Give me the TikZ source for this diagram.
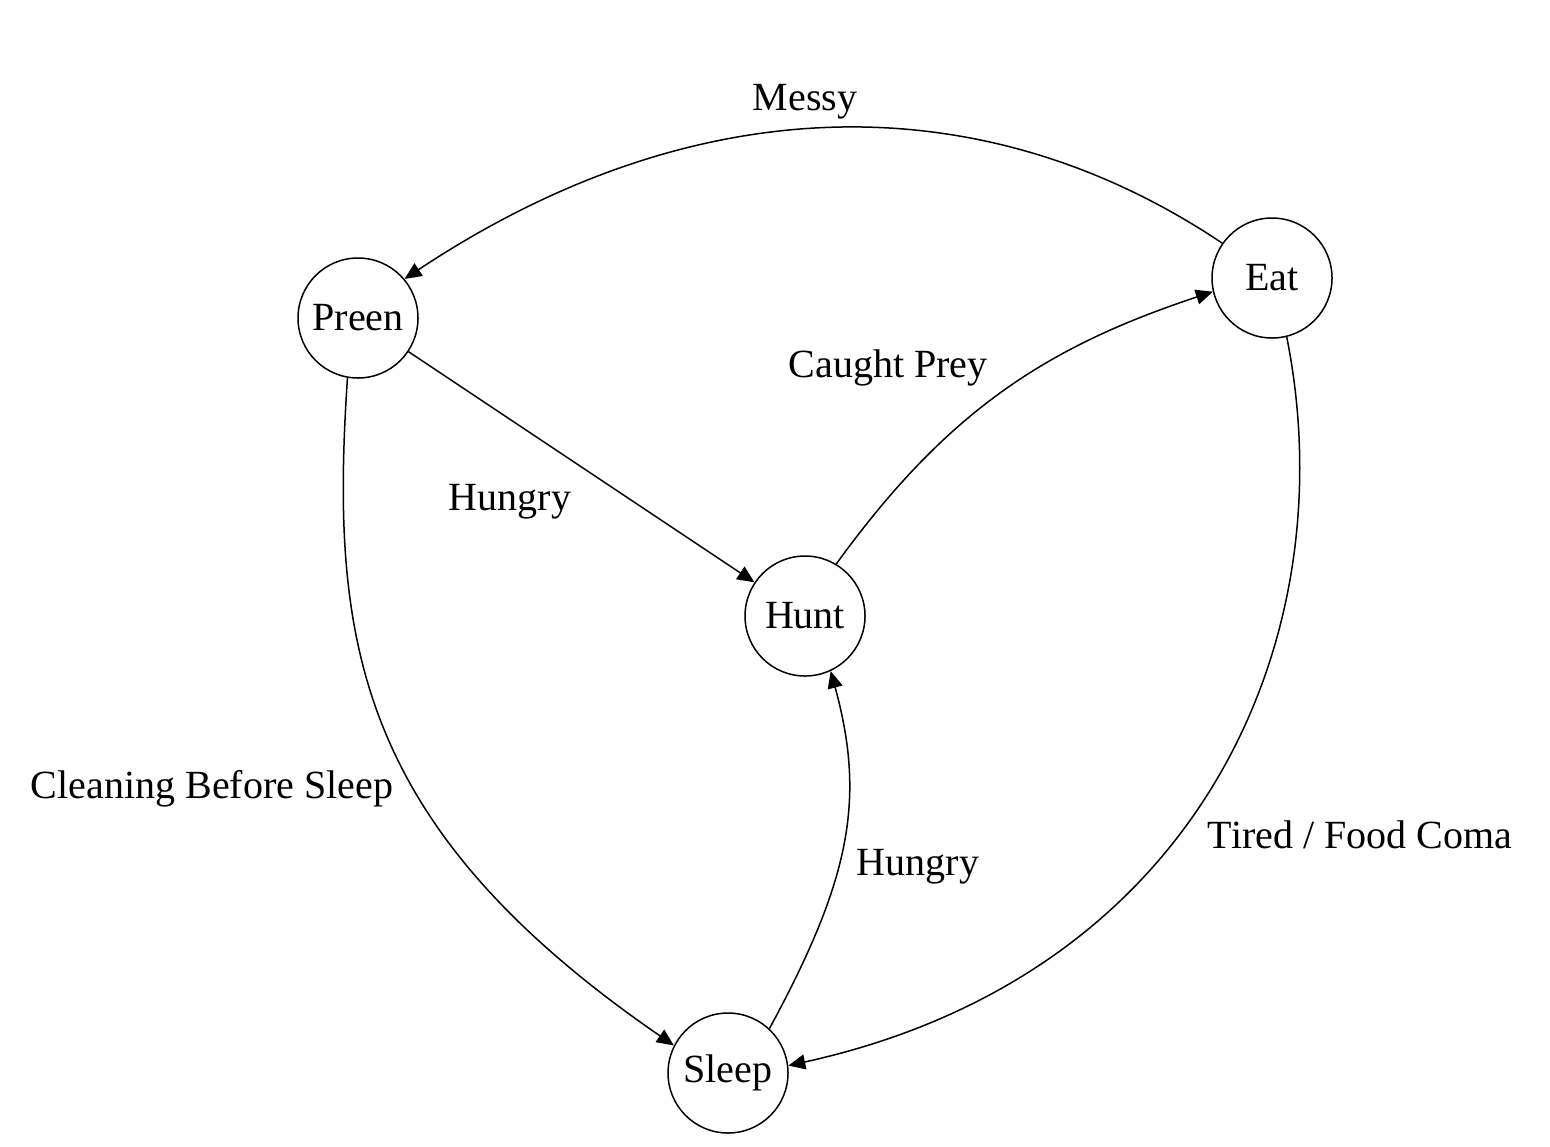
\documentclass[tikz,border=0pt]{standalone}
\usepackage{fontspec}
\setmainfont{Liberation Serif}
\usetikzlibrary{arrows.meta}
\begin{document}
\begin{tikzpicture}[x=0.5pt,y=-0.5pt,
  state/.style={draw, circle, line width=0.75pt, minimum size=60pt, inner sep=0pt, font=\fontsize{20pt}{24pt}\selectfont},
  lbl/.style={anchor=base, inner sep=0pt, font=\fontsize{20pt}{24pt}\selectfont},
  edge/.style={line width=0.75pt, -{Triangle[length=8.5pt,width=7.5pt]}}]
\useasboundingbox (0,0) rectangle (1550,1146);
\fill[white] (0,0) rectangle (1550,1146);
\node[state] (preen) at (358,318) {Preen};
\node[state] (eat) at (1272,278) {Eat};
\node[state] (hunt) at (805,616) {Hunt};
\node[state] (sleep) at (728,1073) {Sleep};

\draw[edge] (eat.145) .. controls (985,84) and (698,84) .. (preen.40);
\draw[edge] (preen) -- (hunt);
\draw[edge] (hunt.59) .. controls (947,411) and (1046,347) .. (eat.193);
\draw[edge] (preen.260) .. controls (330,640) and (355,826) .. (sleep.153);
\draw[edge] (sleep.47) .. controls (850,880) and (866,800) .. (hunt.295);
\draw[edge] (eat.284) .. controls (1347,638) and (1200,975) .. (sleep.7);

\node[lbl] (lmessy) at (805,110) {Messy};
\node[lbl] (lcaught) at (888,377) {Caught Prey};
\node[lbl] (lhungry1) at (510,510) {Hungry};
\node[lbl] (lclean) at (212,798) {Cleaning Before Sleep};
\node[lbl] (lhungry2) at (918,875) {Hungry};
\node[lbl] (ltired) at (1360,848) {Tired / Food Coma};
\end{tikzpicture}
\end{document}
